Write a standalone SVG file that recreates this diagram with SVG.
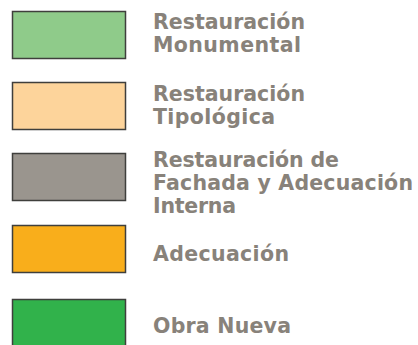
<svg xmlns="http://www.w3.org/2000/svg" width="418" height="345" viewBox="0 0 418 345">
<style>
.sw{stroke:#3f3f3c;stroke-width:1.5}
.lb{font-family:"DejaVu Sans","Open Sans",sans-serif;font-weight:700;font-size:20.5px;fill:#88827a}
</style>
<rect width="418" height="345" fill="#ffffff"/>
<g id="item-monumental">
<rect class="sw" x="12.5" y="11.5" width="113" height="47" fill="#8fcb8a"/>
<text class="lb" x="153" y="29" textLength="152" lengthAdjust="spacing">Restauración</text>
<text class="lb" x="153" y="52" textLength="148" lengthAdjust="spacing">Monumental</text>
</g>
<g id="item-tipologica">
<rect class="sw" x="12.5" y="82.5" width="113" height="47" fill="#fdd49b"/>
<text class="lb" x="153" y="101" textLength="152" lengthAdjust="spacing">Restauración</text>
<text class="lb" x="153" y="124" textLength="122" lengthAdjust="spacing">Tipológica</text>
</g>
<g id="item-fachada">
<rect class="sw" x="12.5" y="153.5" width="113" height="47" fill="#9a958e"/>
<text class="lb" x="153" y="167" textLength="186" lengthAdjust="spacing">Restauración de</text>
<text class="lb" x="153" y="190" textLength="260" lengthAdjust="spacing">Fachada y Adecuación</text>
<text class="lb" x="153" y="213" textLength="83" lengthAdjust="spacing">Interna</text>
</g>
<g id="item-adecuacion">
<rect class="sw" x="12.5" y="225.5" width="113" height="47" fill="#f9ae1b"/>
<text class="lb" x="153" y="261" textLength="136" lengthAdjust="spacing">Adecuación</text>
</g>
<g id="item-obra-nueva">
<rect class="sw" x="12.5" y="299.5" width="113" height="47" fill="#31b24b"/>
<text class="lb" x="153" y="333" textLength="138" lengthAdjust="spacing">Obra Nueva</text>
</g>
<g id="connectors"/>
</svg>
